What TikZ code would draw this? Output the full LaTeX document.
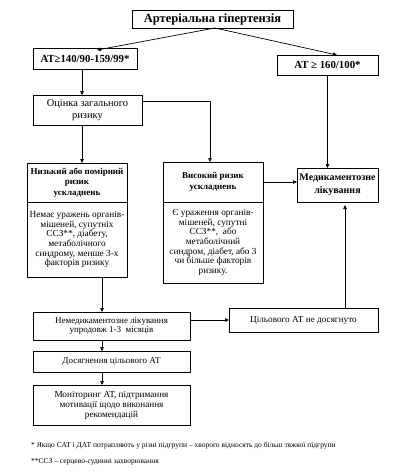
\documentclass[tikz,border=0pt]{standalone}
\usepackage{fontspec}
\setmainfont{Liberation Serif}
\usetikzlibrary{arrows.meta,calc}
\begin{document}
\begin{tikzpicture}[x=1pt,y=-1pt,
  bx/.style={draw,line width=0.7pt,inner sep=0pt,outer sep=0pt,align=center},
  arr/.style={line width=0.7pt,-{Triangle[length=4pt,width=3.5pt]}},
  fhead/.style={font=\fontsize{12.5}{14}\selectfont\bfseries},
  fsub/.style={font=\fontsize{10.8}{12}\selectfont\bfseries},
  fbold/.style={font=\fontsize{9}{10.3}\selectfont\bfseries},
  freg/.style={font=\fontsize{9.2}{10}\selectfont},
  fsmall/.style={font=\fontsize{9}{9.6}\selectfont},
  flow/.style={font=\fontsize{9.3}{9.7}\selectfont},
  fnote/.style={font=\fontsize{7.5}{8}\selectfont,anchor=west,inner sep=0pt}
]
\useasboundingbox[fill=white] (0,0) rectangle (401,472);

\node[bx,fhead,minimum width=161pt,minimum height=18pt] (top) at (212.5,19) {Артеріальна гіпертензія};
\node[bx,fsub,minimum width=104pt,minimum height=21pt] (l1) at (85,58.5) {АТ≥140/90-159/99*};
\node[bx,fsub,minimum width=101pt,minimum height=20pt] (r1) at (327.5,65) {АТ ≥ 160/100*};
\node[bx,font=\fontsize{10.4}{12}\selectfont,minimum width=109pt,minimum height=30pt] (oc) at (87.5,110) {Оцінка загального\\ризику};

\node[bx,fbold,minimum width=100pt,minimum height=39pt] (lowT) at (77,182.5) {Низький або помірний\\ризик\\ускладнень};
\node[bx,flow,minimum width=100pt,minimum height=75pt] (lowB) at (77,239.5) {Немає уражень органів-\\мішеней, супутніх\\ССЗ**, діабету,\\метаболічного\\синдрому, менше 3-х\\факторів ризику};

\node[bx,fbold,minimum width=100pt,minimum height=40pt] (highT) at (213,182) {Високий ризик\\ускладнень};
\node[bx,flow,minimum width=100pt,minimum height=81pt] (highB) at (213,242.5) {Є ураження органів-\\мішеней, супутні\\ССЗ**,~ або\\метаболічний\\синдром, діабет, або 3\\чи більше факторів\\ризику.};

\node[bx,font=\fontsize{10}{12.5}\selectfont\bfseries,minimum width=81pt,minimum height=34pt] (med) at (337.5,185) {Медикаментозне\\лікування};

\node[bx,fsmall,minimum width=157pt,minimum height=28pt] (nemed) at (111.5,326) {Немедикаментозне лікування\\упродовж 1-3~ місяців};
\node[bx,freg,minimum width=149pt,minimum height=24pt] (cil) at (303.5,320) {Цільового АТ не досягнуто};
\node[bx,fsmall,minimum width=157pt,minimum height=21pt] (dos) at (111.5,361.5) {Досягнення цільового АТ};
\node[bx,freg,minimum width=157pt,minimum height=40pt] (mon) at (111.5,405) {Моніторинг АТ, підтримання\\мотивації щодо виконання\\рекомендацій};

\node[fnote] (f1) at (31,446) {* Якщо САТ і ДАТ потрапляють у різні підгрупи – хворого відносять до більш тяжкої підгрупи};
\node[fnote] (f2) at (31,462) {**ССЗ – серцево-судинні захворювання};

% connectors
\draw[arr] ([xshift=2.5pt]top.south) -- ([xshift=12pt,yshift=-2pt]l1.north);
\draw[arr] ([xshift=2.5pt]top.south) -- ([xshift=9.5pt]r1.north);
\draw[arr] ([xshift=-3pt]l1.south) -- ([xshift=-3pt]l1.south |- oc.north);
\draw[arr] ([xshift=5pt]lowT.north |- oc.south) -- ([xshift=5pt]lowT.north);
\draw[arr] ([yshift=9pt]oc.east) -| ([xshift=-3pt]highT.north);
\draw[arr] (r1.south) -- (r1.south |- med.north);
\draw[arr] (highT.east) -- (highT.east -| med.west);
\draw[arr] ([xshift=25pt]lowB.south) -- ([xshift=25pt]lowB.south |- nemed.north);
\draw[arr] (cil.west -| nemed.east) -- (cil.west);
\draw[arr] ([xshift=41.5pt]cil.north) -- ([xshift=41.5pt,yshift=-3pt]cil.north |- med.south);
\draw[arr] ([xshift=-9.5pt]nemed.south) -- ([xshift=-9.5pt]nemed.south |- dos.north);
\draw[arr] ([xshift=-9.5pt]dos.south) -- ([xshift=-9.5pt]dos.south |- mon.north);
\end{tikzpicture}
\end{document}
